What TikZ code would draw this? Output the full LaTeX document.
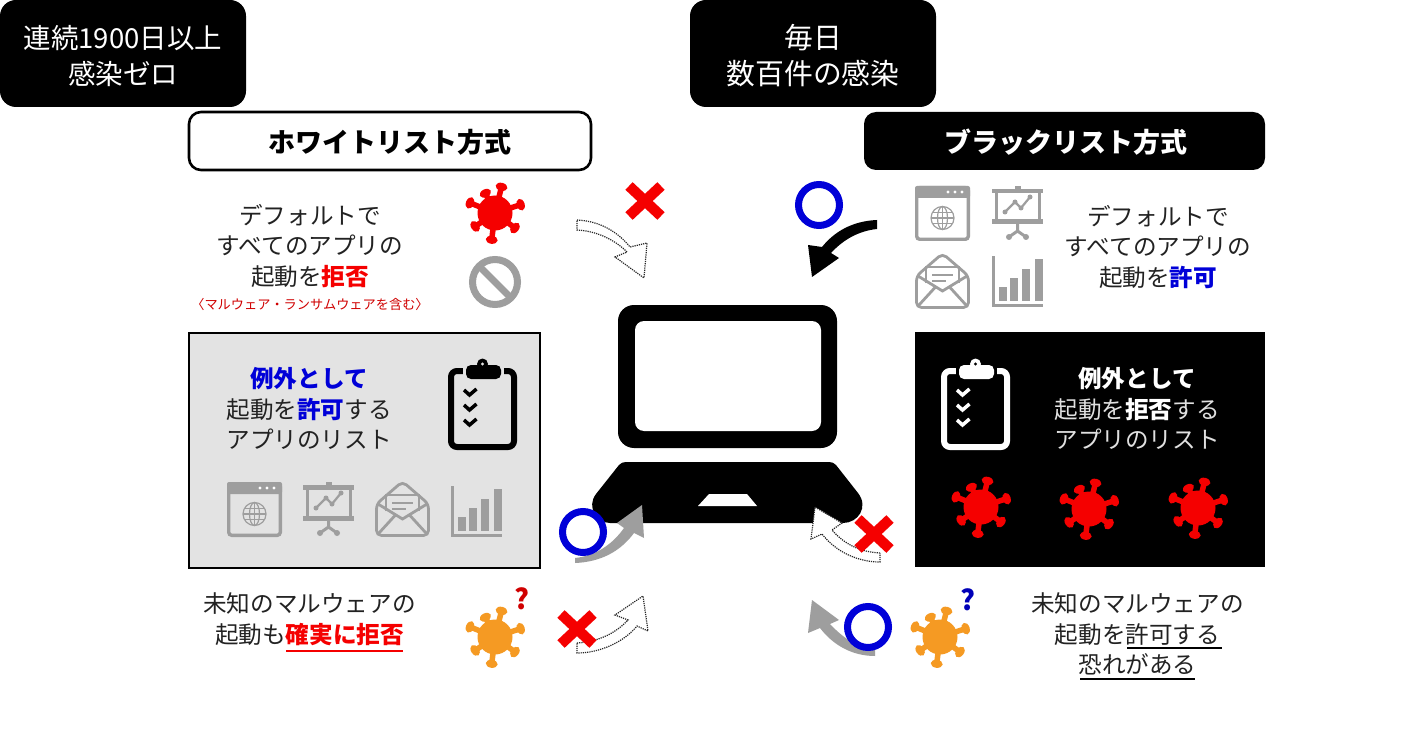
\documentclass[tikz,border=0pt]{standalone}
\usepackage{fontspec}
\setmainfont{Noto Sans CJK JP}
\definecolor{icongray}{HTML}{9E9E9E}
\definecolor{boxgray}{HTML}{E3E3E3}
\definecolor{mred}{HTML}{F50000}
\definecolor{mblue}{HTML}{0000D8}
\definecolor{morange}{HTML}{F59A23}
\definecolor{txt}{HTML}{222222}
\newcommand{\hl}[2]{\textcolor{#1}{\bfseries #2}}
% virus: x y colour
\newcommand{\virusicon}[3]{\begin{scope}[shift={(#1,#2)}]
 \fill[#3] (0,0) circle (17.5);
 \foreach \a/\r in {-76/27,-116/22,-18/27,-158/27,37/25,146/24,97/27}{
  \draw[#3,line width=5.5pt] (0,0) -- (\a:\r);
  \fill[#3,rotate=-\a] (\r,0) ellipse (4 and 6);
 }
\end{scope}}
\newcommand{\crossmark}[2]{\begin{scope}[shift={(#1,#2)}]
 \draw[mred,line width=10.5pt] (-16,-15) -- (16,15) (-16,15) -- (16,-15);
\end{scope}}
\newcommand{\ringmark}[2]{\draw[mblue,line width=7pt,fill=white] (#1,#2) circle (20.5);}
\newcommand{\windowicon}[2]{\begin{scope}[shift={(#1,#2)}]
 \draw[icongray,line width=3.4pt,rounded corners=3] (1.7,1.7) rectangle (53.3,53.3);
 \fill[icongray,rounded corners=2] (0,0) rectangle (55,12);
 \foreach \x in {33,40,47}{\fill[white] (\x,6) circle (1.7);}
 \begin{scope}[icongray,line width=1.2pt]
 \draw (27.5,32) circle (11.5);
 \draw (27.5,32) ellipse (5 and 11.5);
 \draw (16,32) -- (39,32) (17.5,26.5) -- (37.5,26.5) (17.5,37.5) -- (37.5,37.5) (27.5,20.5) -- (27.5,43.5);
 \end{scope}
\end{scope}}
\newcommand{\boardicon}[2]{\begin{scope}[shift={(#1,#2)}]
 \fill[icongray] (23,0) rectangle (29,4);
 \fill[icongray] (0,3) rectangle (51,7.5);
 \fill[icongray] (0,33.5) rectangle (51,38.5);
 \draw[icongray,line width=3pt] (4,5) -- (4,36) (47,5) -- (47,36);
 \draw[icongray,line width=2.2pt] (13,26) -- (23,16) -- (29,22) -- (38,11);
 \foreach \p in {(13,26),(23,16),(29,22),(38,11)}{\fill[icongray] \p circle (2.5);}
 \draw[icongray,line width=3pt] (25.5,38) -- (25.5,45) -- (17,51) (25.5,45) -- (34,51);
 \fill[icongray] (17,51) circle (3) (34,51) circle (3);
\end{scope}}
\newcommand{\mailicon}[2]{\begin{scope}[shift={(#1,#2)}]
 \draw[icongray,line width=2.8pt,rounded corners=5] (1.5,24) -- (27.5,1.5) -- (53.5,24) -- (53.5,55.5) -- (1.5,55.5) -- cycle;
 \draw[icongray,line width=2.8pt] (11,31) -- (11,15) -- (44,15) -- (44,31);
 \draw[icongray,line width=2.8pt] (3,24) -- (27.5,39) -- (52,24);
 \draw[icongray,line width=2.8pt,line cap=round] (4,53) -- (20,35.5) (51,53) -- (35,35.5);
 \draw[icongray,line width=2pt] (17,23) -- (38,23) (17,29) -- (31,29);
\end{scope}}
\newcommand{\charticon}[2]{\begin{scope}[shift={(#1,#2)}]
 \fill[icongray] (0,0) rectangle (2.5,51);
 \fill[icongray] (0,48) rectangle (51,51);
 \fill[icongray] (7,31) rectangle (15,45);
 \fill[icongray] (18,22) rectangle (26,45);
 \fill[icongray] (30,13) rectangle (38,45);
 \fill[icongray] (43,3) rectangle (51,45);
\end{scope}}
% clipboard: x y linecolour bgcolour
\newcommand{\clipicon}[4]{\begin{scope}[shift={(#1,#2)}]
 \draw[#3,line width=6pt,rounded corners=6] (3,10) rectangle (66,86);
 \fill[#4] (15,0) rectangle (56,21);
 \fill[#3] (34.5,3) circle (5.5);
 \fill[#3,rounded corners=5] (18,4) rectangle (53,18);
 \fill[#4] (34.5,3) circle (1.7);
 \foreach \y in {32,47,62}{
  \draw[#3,line width=3.5pt] (16,\y-3) -- (21.5,\y+2) -- (28.5,\y-4);
 }
\end{scope}}
\tikzset{
 bodytext/.style={font=\fontsize{23.6}{30.5}\selectfont,text=txt,align=center,inner sep=0},
 inverse/.style={font=\fontsize{23.6}{30.5}\selectfont,text=white,align=center,inner sep=0},
 topbox/.style={fill=black,rounded corners=16},
 headtext/.style={font=\fontsize{27}{32}\selectfont\bfseries,inner sep=0},
 dasharrow/.style={draw=black!85,fill=white,densely dotted,line width=1.2pt},
}
\begin{document}
\begin{tikzpicture}[x=1pt,y=-1pt]
\useasboundingbox (0,0) rectangle (1402,751);
\fill[white] (0,0) rectangle (1402,751);
% header boxes
\fill[topbox] (0,0) rectangle (246,107);
\fill[topbox] (690,0) rectangle (936,107);
\node[text=white,align=center,font=\fontsize{27.5}{36}\selectfont,inner sep=0] (t1) at (123,56) {連続1900日以上\\感染ゼロ};
\node[text=white,align=center,font=\fontsize{28.8}{36}\selectfont,inner sep=0] (t2) at (813,56) {毎日\\数百件の感染};
\draw[black,line width=2.6pt,rounded corners=12,fill=white] (189,112) rectangle (591,170);
\fill[black,rounded corners=12] (864,112) rectangle (1265,170);
\node[headtext] (wl) at (390,142) {ホワイトリスト方式};
\node[headtext,text=white] (bl) at (1066,142) {ブラックリスト方式};
% left upper text
\node[bodytext] (lt) at (310,246) {デフォルトで\\すべてのアプリの\\起動を\hl{mred}{拒否}};
\node[font=\fontsize{13.2}{15}\selectfont,text=mred!85!black,inner sep=0] (lsmall) at (310,304) {〈マルウェア・ランサムウェアを含む〉};
\virusicon{495}{213}{mred}
\draw[icongray,line width=7pt] (495,282) circle (22.5);
\draw[icongray,line width=7pt] (479,266) -- (511,298);
% right upper text
\node[bodytext] (rt) at (1158,247) {デフォルトで\\すべてのアプリの\\起動を\hl{mblue}{許可}};
\windowicon{915}{186}
\boardicon{992}{186}
\mailicon{915}{252}
\charticon{992}{256}
% left grey box
\draw[black,line width=1.8pt,fill=boxgray] (189,333) rectangle (540,568);
\node[bodytext] (lb) at (309,408.5) {\hl{mblue}{例外として}\\起動を\hl{mblue}{許可}する\\アプリのリスト};
\clipicon{448}{361}{black}{boxgray}
\windowicon{227}{482}
\boardicon{303}{482}
\mailicon{375}{480}
\charticon{451}{486}
% right black box
\fill[black] (915,332) rectangle (1265,567);
\node[inverse] (rb) at (1137,408.5) {{\bfseries 例外として}\\\textcolor{white!88!black}{起動を\textcolor{white}{\bfseries 拒否}する}\\\textcolor{white!88!black}{アプリのリスト}};
\clipicon{941}{361}{white}{black}
\virusicon{981}{507}{mred}
\virusicon{1089}{509}{mred}
\virusicon{1198}{508}{mred}
% laptop
\fill[black,rounded corners=16] (618,305) rectangle (837,448);
\fill[white,rounded corners=9] (635,321) rectangle (821,431);
\fill[black] (626,462) -- (829,462) .. controls (832,462) and (834,463) .. (836,465) -- (858,493) .. controls (869,507) and (858,523) .. (843,523) -- (610,523) .. controls (597,523) and (586,507) .. (596,494) -- (619,465) .. controls (621,463) and (623,462) .. (626,462) -- cycle;
\fill[white] (709,494) -- (747,494) -- (757,506) -- (698,506) -- cycle;
% arrows
\draw[dasharrow] (577,220) .. controls (600,221) and (618,232) .. (630,247) -- (647,243) -- (644,278) -- (615,257) -- (627,252) .. controls (615,240) and (597,231) .. (577,230) -- cycle;
\fill[black] (877,220) .. controls (852,221) and (834,232) .. (822,247) -- (808,245) -- (812,277) -- (839,258) -- (831,253) .. controls (843,240) and (858,231) .. (877,229) -- cycle;
\fill[icongray] (575,558) .. controls (595,556) and (612,545) .. (624,528) -- (617,523) -- (642,505) -- (644,538) -- (634,533) .. controls (620,552) and (600,562) .. (575,563) -- cycle;
\draw[dasharrow] (577,643) .. controls (598,642) and (616,633) .. (628,620) -- (615,615) -- (643,596) -- (648,631) -- (637,626) .. controls (624,642) and (600,653) .. (577,653) -- cycle;
\draw[dasharrow] (880,553) .. controls (860,552) and (844,544) .. (832,530) -- (842,523) -- (815,507) -- (811,539) -- (822,534) .. controls (836,552) and (858,562) .. (880,562) -- cycle;
\fill[icongray] (875,650) .. controls (858,648) and (843,638) .. (830,624) -- (839,620) -- (812,600) -- (808,633) -- (820,628) .. controls (833,645) and (852,656) .. (875,656) -- cycle;
% marks
\crossmark{645}{201}
\ringmark{819}{205}
\ringmark{583}{532}
\crossmark{874}{534}
\crossmark{577}{629}
\ringmark{868}{627}
% bottom texts
\node[bodytext] (lbot) at (309.5,619) {未知のマルウェアの\\起動も\hl{mred}{確実に拒否}};
\draw[mred,line width=1.5pt] (286,651) -- (403,651);
\virusicon{495}{637}{morange}
\node[font=\fontsize{28}{30}\selectfont\bfseries,text=mred!85!black,inner sep=0] (qr) at (522,599) {?};
\node[bodytext] (rbot) at (1137.5,634) {未知のマルウェアの\\起動を許可する\\恐れがある};
\draw[black,line width=1.5pt] (1127,648) -- (1222,648) (1080,679) -- (1195,679);
\virusicon{940}{637}{morange}
\node[font=\fontsize{28}{30}\selectfont\bfseries,text=mblue!85!black,inner sep=0] (qb) at (968,600) {?};
\end{tikzpicture}
\end{document}
